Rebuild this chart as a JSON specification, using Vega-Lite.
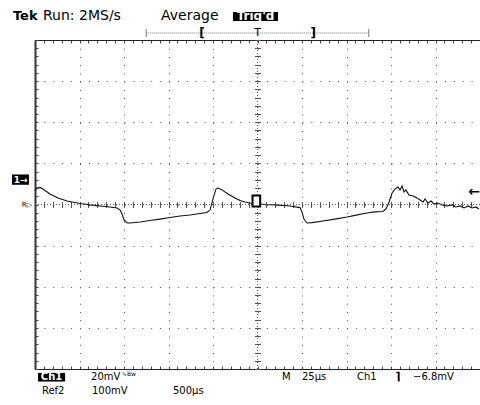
{
  "$schema": "https://vega.github.io/schema/vega-lite/v6.json",
  "width": 445,
  "height": 329,
  "autosize": {"type": "none"},
  "padding": {"left": 35, "top": 40, "right": 0, "bottom": 36},
  "background": "white",
  "config": {"view": {"stroke": null}, "font": "DejaVu Sans", "text": {"font": "DejaVu Sans", "color": "black"}},
  "resolve": {"axis": {"x": "independent", "y": "independent"}},
  "layer": [
    {
      "data": {"values": [
        {"t": 0, "v": 6.8}, {"t": 1.1, "v": 8.0}, {"t": 2.8, "v": 8.3}, {"t": 4.5, "v": 7.5}, {"t": 8.4, "v": 5.1},
        {"t": 12.9, "v": 3.2}, {"t": 18.0, "v": 1.7}, {"t": 25.3, "v": 0.5}, {"t": 30.9, "v": -0.2}, {"t": 36.5, "v": -0.7},
        {"t": 42.1, "v": -1.2}, {"t": 46.1, "v": -1.7}, {"t": 47.8, "v": -2.7}, {"t": 48.9, "v": -4.6}, {"t": 50.0, "v": -7.5},
        {"t": 51.7, "v": -9.0}, {"t": 53.4, "v": -9.0}, {"t": 59.0, "v": -8.5}, {"t": 64.6, "v": -7.8}, {"t": 70.2, "v": -7.1},
        {"t": 75.8, "v": -6.3}, {"t": 81.5, "v": -5.6}, {"t": 87.1, "v": -5.1}, {"t": 92.7, "v": -4.4}, {"t": 96.6, "v": -3.9},
        {"t": 98.3, "v": -2.7}, {"t": 99.4, "v": 0.7}, {"t": 100.6, "v": 4.6}, {"t": 101.7, "v": 7.5}, {"t": 102.8, "v": 8.0},
        {"t": 105.1, "v": 7.1}, {"t": 108.4, "v": 5.1}, {"t": 112.4, "v": 3.2}, {"t": 115.2, "v": 1.9}, {"t": 118.0, "v": 1.2},
        {"t": 120.8, "v": 0.7}, {"t": 124.2, "v": 0.5}, {"t": 129.2, "v": 0.0}, {"t": 134.8, "v": -0.2}, {"t": 143.3, "v": -0.7},
        {"t": 148.9, "v": -1.5}, {"t": 150.0, "v": -3.6}, {"t": 151.1, "v": -7.1}, {"t": 152.8, "v": -9.0}, {"t": 155.6, "v": -8.8},
        {"t": 161.8, "v": -8.0}, {"t": 168.5, "v": -7.1}, {"t": 175.3, "v": -6.1}, {"t": 179.8, "v": -5.3}, {"t": 186.5, "v": -4.1},
        {"t": 191.0, "v": -3.6}, {"t": 195.5, "v": -3.4}, {"t": 197.2, "v": -2.2}, {"t": 198.9, "v": 1.2}, {"t": 200.6, "v": 5.6},
        {"t": 202.2, "v": 7.5}, {"t": 203.9, "v": 8.5}, {"t": 205.1, "v": 7.1}, {"t": 206.2, "v": 9.0}, {"t": 207.3, "v": 6.1},
        {"t": 208.4, "v": 7.1}, {"t": 210.1, "v": 4.6}, {"t": 212.4, "v": 4.1}, {"t": 214.6, "v": 3.2}, {"t": 216.3, "v": 2.2},
        {"t": 218.0, "v": 1.2}, {"t": 219.1, "v": 2.7}, {"t": 220.8, "v": 0.7}, {"t": 222.5, "v": 1.7}, {"t": 224.2, "v": 0.2},
        {"t": 226.4, "v": 0.7}, {"t": 228.7, "v": -0.2}, {"t": 231.5, "v": -0.7}, {"t": 234.3, "v": -0.2}, {"t": 236.5, "v": -1.2},
        {"t": 238.8, "v": -0.7}, {"t": 241.0, "v": -1.7}, {"t": 243.3, "v": -0.7}, {"t": 245.5, "v": -1.7}, {"t": 247.8, "v": -1.2},
        {"t": 249.4, "v": -2.2}
      ]},
      "mark": {"type": "line", "color": "#111", "strokeWidth": 1.1, "interpolate": "linear"},
      "encoding": {
        "x": {"field": "t", "type": "quantitative", "scale": {"domain": [0, 250], "nice": false, "zero": false},
          "axis": {"orient": "bottom", "title": null, "labels": false, "grid": false, "values": [0,5,10,15,20,25,30,35,40,45,50,55,60,65,70,75,80,85,90,95,100,105,110,115,120,125,130,135,140,145,150,155,160,165,170,175,180,185,190,195,200,205,210,215,220,225,230,235,240,245,250], "tickSize": -3, "tickColor": "#444", "domainColor": "#222", "domainWidth": 1}},
        "y": {"field": "v", "type": "quantitative", "scale": {"domain": [-80, 80], "nice": false, "zero": false},
          "axis": {"orient": "left", "title": null, "labels": false, "grid": false, "values": [-80,-76,-72,-68,-64,-60,-56,-52,-48,-44,-40,-36,-32,-28,-24,-20,-16,-12,-8,-4,0,4,8,12,16,20,24,28,32,36,40,44,48,52,56,60,64,68,72,76,80], "tickSize": -3, "tickColor": "#444", "domainColor": "#333", "domainWidth": 2}}
      }
    },
    {
      "data": {"values": [{}]},
      "mark": {"type": "rule", "color": "#555", "strokeDash": [1, 2]},
      "encoding": {
        "x": {"datum": 125, "type": "quantitative",
          "axis": {"orient": "top", "title": null, "labels": false, "grid": false, "values": [0,5,10,15,20,25,30,35,40,45,50,55,60,65,70,75,80,85,90,95,100,105,110,115,120,125,130,135,140,145,150,155,160,165,170,175,180,185,190,195,200,205,210,215,220,225,230,235,240,245,250], "tickSize": -3, "tickColor": "#444", "domainColor": "#222", "domainWidth": 1}},
        "y": {"datum": -80, "type": "quantitative",
          "axis": {"orient": "left", "title": null, "labels": false, "domain": false, "ticks": false, "grid": true, "values": [-80,-60,-40,-20,0,20,40,60,80], "gridColor": "#555", "gridDash": [1, 7.9], "gridWidth": 1, "gridOpacity": 1}},
        "y2": {"datum": 80}
      }
    },
    {
      "data": {"values": [{}]},
      "mark": {"type": "rule", "color": "#555", "strokeDash": [1, 2]},
      "encoding": {
        "y": {"datum": 0, "type": "quantitative",
          "axis": {"orient": "left", "offset": -225.5, "title": null, "labels": false, "domain": false, "grid": false, "values": [-80,-76,-72,-68,-64,-60,-56,-52,-48,-44,-40,-36,-32,-28,-24,-20,-16,-12,-8,-4,0,4,8,12,16,20,24,28,32,36,40,44,48,52,56,60,64,68,72,76,80], "tickSize": 6, "tickColor": "#555"}},
        "x": {"datum": 0, "type": "quantitative",
          "axis": {"orient": "bottom", "title": null, "labels": false, "domain": false, "ticks": false, "grid": true, "values": [0,25,50,75,100,125,150,175,200,225,250], "gridColor": "#555", "gridDash": [1, 7.225], "gridWidth": 1, "gridOpacity": 1}},
        "x2": {"datum": 250}
      }
    },
    {
      "data": {"values": [{}]},
      "mark": {"type": "rule", "opacity": 0},
      "encoding": {
        "x": {"datum": 0, "type": "quantitative",
          "axis": {"orient": "bottom", "offset": -167.5, "title": null, "labels": false, "domain": false, "grid": false, "values": [0,5,10,15,20,25,30,35,40,45,50,55,60,65,70,75,80,85,90,95,100,105,110,115,120,125,130,135,140,145,150,155,160,165,170,175,180,185,190,195,200,205,210,215,220,225,230,235,240,245,250], "tickSize": 6, "tickColor": "#555"}},
        "x2": {"datum": 250}
      }
    },
    {
      "data": {"values": [{}]},
      "mark": {"type": "rule", "color": "#777", "strokeDash": [1, 1]},
      "encoding": {"x": {"datum": 62.5, "type": "quantitative", "axis": null}, "x2": {"datum": 187.5}, "y": {"datum": 83.4, "type": "quantitative", "axis": null}}
    },
    {
      "data": {"values": [{}]},
      "mark": {"type": "rule", "color": "#777"},
      "encoding": {"x": {"datum": 62.5, "type": "quantitative", "axis": null}, "y": {"datum": 81.5, "type": "quantitative", "axis": null}, "y2": {"datum": 85.4}}
    },
    {
      "data": {"values": [{}]},
      "mark": {"type": "rule", "color": "#777"},
      "encoding": {"x": {"datum": 187.5, "type": "quantitative", "axis": null}, "y": {"datum": 81.5, "type": "quantitative", "axis": null}, "y2": {"datum": 85.4}}
    },
    {
      "data": {"values": [{}]},
      "mark": {"type": "rect", "color": "black"},
      "encoding": {"x": {"datum": 111.2, "type": "quantitative", "axis": null}, "x2": {"datum": 136.5}, "y": {"datum": 89.2, "type": "quantitative", "axis": null}, "y2": {"datum": 93.6}}
    },
    {
      "data": {"values": [{}]},
      "mark": {"type": "rect", "color": "black"},
      "encoding": {"x": {"datum": 1.7, "type": "quantitative", "axis": null}, "x2": {"datum": 16.9}, "y": {"datum": -81.9, "type": "quantitative", "axis": null}, "y2": {"datum": -86.1}}
    },
    {
      "data": {"values": [{}]},
      "mark": {"type": "rect", "color": "black"},
      "encoding": {"x": {"datum": -12.9, "type": "quantitative", "axis": null}, "x2": {"datum": -3.4}, "y": {"datum": 9.6, "type": "quantitative", "axis": null}, "y2": {"datum": 14.6}}
    },
    {
      "data": {"values": [{}]},
      "mark": {"type": "rect", "fill": "white", "stroke": "black", "strokeWidth": 2},
      "encoding": {"x": {"datum": 122.2, "type": "quantitative", "axis": null}, "x2": {"datum": 126.5}, "y": {"datum": -1.0, "type": "quantitative", "axis": null}, "y2": {"datum": 4.4}}
    },
    {
      "data": {"values": [{}]},
      "mark": {"type": "text", "text": "Tek", "fontWeight": "bold", "fontSize": 13, "align": "left", "baseline": "middle"},
      "encoding": {"x": {"datum": -12.4, "type": "quantitative", "axis": null}, "y": {"datum": 91.7, "type": "quantitative", "axis": null}}
    },
    {
      "data": {"values": [{}]},
      "mark": {"type": "text", "text": "Run: 2MS/s", "fontSize": 14, "align": "left", "baseline": "middle"},
      "encoding": {"x": {"datum": 4.5, "type": "quantitative", "axis": null}, "y": {"datum": 91.7, "type": "quantitative", "axis": null}}
    },
    {
      "data": {"values": [{}]},
      "mark": {"type": "text", "text": "Average", "fontSize": 14, "align": "left", "baseline": "middle"},
      "encoding": {"x": {"datum": 70.8, "type": "quantitative", "axis": null}, "y": {"datum": 91.7, "type": "quantitative", "axis": null}}
    },
    {
      "data": {"values": [{}]},
      "mark": {"type": "text", "text": "Trig'd", "fontSize": 12, "fontWeight": "bold", "color": "white", "align": "center", "baseline": "middle"},
      "encoding": {"x": {"datum": 123.9, "type": "quantitative", "axis": null}, "y": {"datum": 91.5, "type": "quantitative", "axis": null}}
    },
    {
      "data": {"values": [{}]},
      "mark": {"type": "text", "text": "[", "fontSize": 12, "fontWeight": "bold", "align": "center", "baseline": "middle"},
      "encoding": {"x": {"datum": 93.75, "type": "quantitative", "axis": null}, "y": {"datum": 83.4, "type": "quantitative", "axis": null}}
    },
    {
      "data": {"values": [{}]},
      "mark": {"type": "text", "text": "T", "fontSize": 11, "align": "center", "baseline": "middle"},
      "encoding": {"x": {"datum": 125, "type": "quantitative", "axis": null}, "y": {"datum": 83.4, "type": "quantitative", "axis": null}}
    },
    {
      "data": {"values": [{}]},
      "mark": {"type": "text", "text": "]", "fontSize": 12, "fontWeight": "bold", "align": "center", "baseline": "middle"},
      "encoding": {"x": {"datum": 156.25, "type": "quantitative", "axis": null}, "y": {"datum": 83.4, "type": "quantitative", "axis": null}}
    },
    {
      "data": {"values": [{}]},
      "mark": {"type": "text", "text": "Ch1", "fontSize": 10, "fontWeight": "bold", "color": "white", "align": "center", "baseline": "middle"},
      "encoding": {"x": {"datum": 9.3, "type": "quantitative", "axis": null}, "y": {"datum": -84.0, "type": "quantitative", "axis": null}}
    },
    {
      "data": {"values": [{}]},
      "mark": {"type": "text", "text": "20mV", "fontSize": 10, "align": "left", "baseline": "middle"},
      "encoding": {"x": {"datum": 31.5, "type": "quantitative", "axis": null}, "y": {"datum": -84.0, "type": "quantitative", "axis": null}}
    },
    {
      "data": {"values": [{}]},
      "mark": {"type": "text", "text": "∿Bw", "fontSize": 6, "align": "left", "baseline": "middle"},
      "encoding": {"x": {"datum": 48.8, "type": "quantitative", "axis": null}, "y": {"datum": -82.6, "type": "quantitative", "axis": null}}
    },
    {
      "data": {"values": [{}]},
      "mark": {"type": "text", "text": "M", "fontSize": 10, "align": "left", "baseline": "middle"},
      "encoding": {"x": {"datum": 138.8, "type": "quantitative", "axis": null}, "y": {"datum": -84.0, "type": "quantitative", "axis": null}}
    },
    {
      "data": {"values": [{}]},
      "mark": {"type": "text", "text": "25µs", "fontSize": 10, "align": "left", "baseline": "middle"},
      "encoding": {"x": {"datum": 150, "type": "quantitative", "axis": null}, "y": {"datum": -84.0, "type": "quantitative", "axis": null}}
    },
    {
      "data": {"values": [{}]},
      "mark": {"type": "text", "text": "Ch1", "fontSize": 10, "align": "left", "baseline": "middle"},
      "encoding": {"x": {"datum": 180.9, "type": "quantitative", "axis": null}, "y": {"datum": -84.0, "type": "quantitative", "axis": null}}
    },
    {
      "data": {"values": [{}]},
      "mark": {"type": "text", "text": "⌉", "fontSize": 11, "fontWeight": "bold", "align": "left", "baseline": "middle"},
      "encoding": {"x": {"datum": 202.5, "type": "quantitative", "axis": null}, "y": {"datum": -84.0, "type": "quantitative", "axis": null}}
    },
    {
      "data": {"values": [{}]},
      "mark": {"type": "text", "text": "−6.8mV", "fontSize": 10, "align": "left", "baseline": "middle"},
      "encoding": {"x": {"datum": 212.4, "type": "quantitative", "axis": null}, "y": {"datum": -84.0, "type": "quantitative", "axis": null}}
    },
    {
      "data": {"values": [{}]},
      "mark": {"type": "text", "text": "Ref2", "fontSize": 10, "align": "left", "baseline": "middle"},
      "encoding": {"x": {"datum": 3.9, "type": "quantitative", "axis": null}, "y": {"datum": -90.5, "type": "quantitative", "axis": null}}
    },
    {
      "data": {"values": [{}]},
      "mark": {"type": "text", "text": "100mV", "fontSize": 10, "align": "left", "baseline": "middle"},
      "encoding": {"x": {"datum": 32, "type": "quantitative", "axis": null}, "y": {"datum": -90.5, "type": "quantitative", "axis": null}}
    },
    {
      "data": {"values": [{}]},
      "mark": {"type": "text", "text": "500µs", "fontSize": 10, "align": "left", "baseline": "middle"},
      "encoding": {"x": {"datum": 77.5, "type": "quantitative", "axis": null}, "y": {"datum": -90.5, "type": "quantitative", "axis": null}}
    },
    {
      "data": {"values": [{}]},
      "mark": {"type": "text", "text": "1→", "fontSize": 9, "fontWeight": "bold", "color": "white", "align": "center", "baseline": "middle"},
      "encoding": {"x": {"datum": -8.1, "type": "quantitative", "axis": null}, "y": {"datum": 12.1, "type": "quantitative", "axis": null}}
    },
    {
      "data": {"values": [{}]},
      "mark": {"type": "text", "text": "R▷", "fontSize": 7, "color": "black", "align": "center", "baseline": "middle"},
      "encoding": {"x": {"datum": -4.5, "type": "quantitative", "axis": null}, "y": {"datum": -0.2, "type": "quantitative", "axis": null}}
    },
    {
      "data": {"values": [{}]},
      "mark": {"type": "text", "text": "←", "fontSize": 14, "fontWeight": "bold", "color": "black", "align": "right", "baseline": "middle"},
      "encoding": {"x": {"datum": 250, "type": "quantitative", "axis": null}, "y": {"datum": 6.1, "type": "quantitative", "axis": null}}
    }
  ]
}
